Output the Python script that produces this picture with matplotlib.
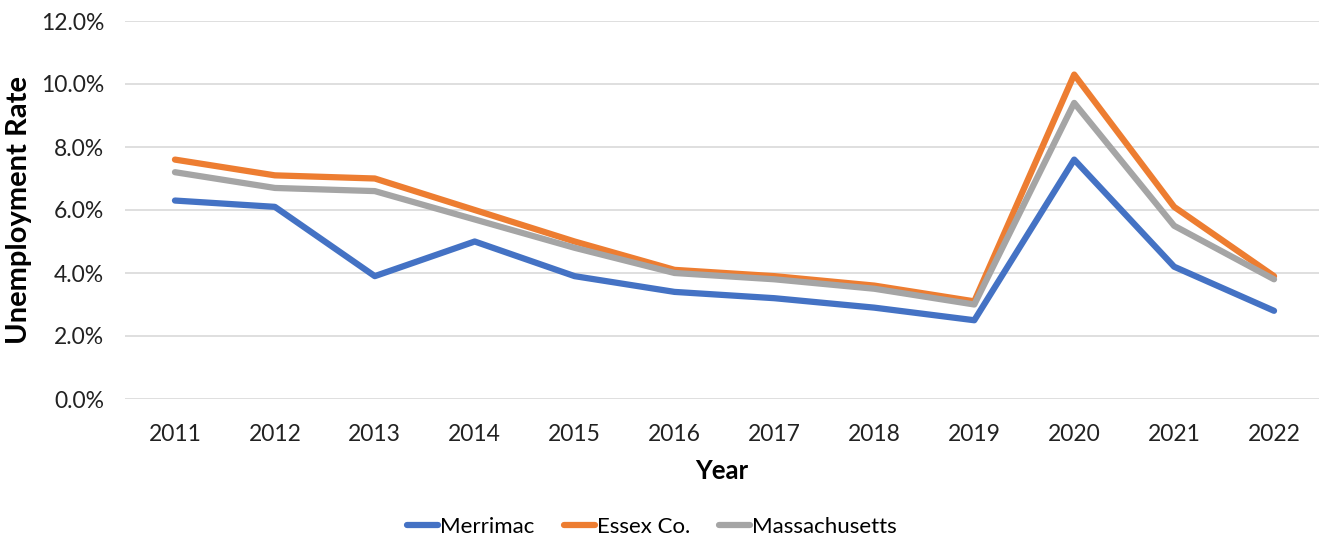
import matplotlib
matplotlib.use("Agg")
import matplotlib.pyplot as plt
from matplotlib.ticker import FuncFormatter, MultipleLocator

plt.rcParams['font.family'] = ['Lato', 'DejaVu Sans']

years = ["2011", "2012", "2013", "2014", "2015", "2016", "2017", "2018", "2019", "2020", "2021", "2022"]
merrimac = [6.3, 6.1, 3.9, 5.0, 3.9, 3.4, 3.2, 2.9, 2.5, 7.6, 4.2, 2.8]
essex = [7.6, 7.1, 7.0, 6.0, 5.0, 4.1, 3.9, 3.6, 3.1, 10.3, 6.1, 3.9]
massachusetts = [7.2, 6.7, 6.6, 5.7, 4.8, 4.0, 3.8, 3.5, 3.0, 9.4, 5.5, 3.8]

fig = plt.figure(figsize=(13.19, 5.44), dpi=100)
ax = fig.add_axes([125/1319, 145/544, 1194/1319, 378/544])

x = list(range(len(years)))
ax.plot(x, merrimac, color="#4472C4", lw=4.5, label="Merrimac", solid_capstyle="round", zorder=3)
ax.plot(x, essex, color="#ED7D31", lw=4.5, label="Essex Co.", solid_capstyle="round", zorder=3)
ax.plot(x, massachusetts, color="#A5A5A5", lw=4.5, label="Massachusetts", solid_capstyle="round", zorder=3)

ax.set_xlim(-0.5, 11.45)
ax.set_ylim(0, 12)
ax.set_xticks(x)
ax.set_xticklabels(years)
ax.yaxis.set_major_locator(MultipleLocator(2))
ax.yaxis.set_major_formatter(FuncFormatter(lambda v, p: f"{v:.1f}%"))
ax.grid(axis="y", color="#D9D9D9", lw=1.2)
ax.set_axisbelow(True)
for s in ax.spines.values():
    s.set_visible(False)
ax.tick_params(length=0, labelsize=16.5, colors="#222222")
ax.tick_params(axis="x", pad=18)
ax.tick_params(axis="y", pad=15)

ax.set_ylabel("Unemployment Rate", fontsize=21, fontweight="bold", labelpad=6)
ax.set_xlabel("Year", fontsize=18.5, fontweight="bold", labelpad=10)

leg = fig.legend(loc="center", bbox_to_anchor=(652/1319, 1 - 527/544), ncol=3,
                 frameon=False, fontsize=16, handlelength=1.4, handletextpad=0.1,
                 columnspacing=1.3)

fig.savefig("out.png", dpi=100)
